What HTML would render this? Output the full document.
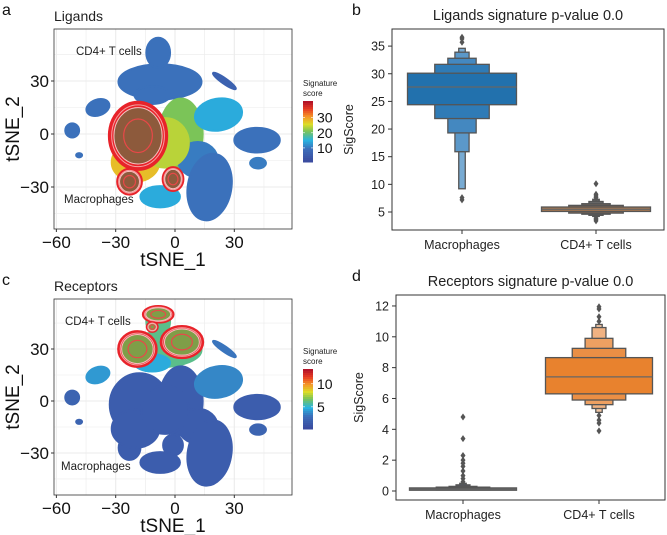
<!DOCTYPE html>
<html><head><meta charset="utf-8"><style>
body{margin:0;background:#fff;}
svg{display:block;font-family:"Liberation Sans",sans-serif;}
</style></head><body>
<svg id="fig" width="667" height="535" viewBox="0 0 667 535"></svg>
<script>
// ---- tSNE cluster data (data units) ----
const clusterX  = [-7.6,-8.5,25,-39,-52,-48.5,-18,-23,-1,3,22,41.5,42,11.5,17.5,-7.5,-11.5,-20,-5];
const clusterY  = [29.5,46,30,15,2,-12,-2,-27,-25.5,0,11,-3.5,-16.5,-14.5,-30,-35.5,22,-16,-5];
const clusterRx = [21,6,7,6,3.5,1.5,15,5.5,5,11,12,11.5,4,10,11,10,9,12,12];
const clusterRy = [10,8.5,1.5,4.5,4,1.2,18,7,6,20,9,7,3,10,19,6,5,11,14];
const clusterRot= [0,0,35,-20,0,0,0,0,0,0,-10,0,0,0,10,0,0,0,0];
const scoreA    = [9,9,6,9,9,9,30,28,20,21,14,9,10,10,9,14,9,28,24];
const scoreC    = [6,6,3,4,2,2,1.5,1.5,1.5,1.5,3.5,1.5,2,1.5,1.5,1.5,4.5,1.5,1.5];
const xTicks = [-60,-30,0,30];
const yTicks = [30,0,-30];
// contours
const contA_x=[-18.7,-23,-1], contA_y=[-1,-27,-25.5], contA_rx=[14.5,6,5], contA_ry=[19,7,6.5];
const contC_x=[-19,3.5,-8.5,-11.5], contC_y=[30,34,50,42.7], contC_rx=[9.5,10.5,7.5,2.5], contC_ry=[10,9,4.5,2.5];
// ---- boxen data ----
const catB = ["Macrophages","CD4+ T cells"];
const bMacLo=[24.4,21.9,19.3,15.9,9.2], bMacHi=[30.1,31.7,32.8,33.9,34.6], bMacMed=27.6;
const bMacOut=[7.2,7.6,35.7,36.3,36.6];
const bCdLo=[5.1,4.8,4.6,4.4,4.2], bCdHi=[5.9,6.2,6.5,6.9,7.3], bCdMed=5.5;
const bCdOut=[3.4,3.7,3.9,7.6,7.9,8.2,10.1];
const bTicks=[5,10,15,20,25,30,35];
const dMacLo=[0.05,0.07,0.08,0.1,0.1], dMacHi=[0.2,0.25,0.3,0.4,0.5], dMacMed=0.12;
const dMacOut=[0.6,0.8,1.0,1.3,1.6,1.8,2.0,2.3,3.4,4.8];
const dCdLo=[6.3,5.9,5.6,5.35,5.1], dCdHi=[8.65,9.25,9.9,10.6,10.8], dCdMed=7.4;
const dCdOut=[3.9,4.4,4.6,4.9,11.0,11.3,11.8,11.95];
const dTicks=[0,2,4,6,8,10,12];

const NS="http://www.w3.org/2000/svg", svg=document.getElementById('fig');
function el(tag,attrs,parent,txt){const e=document.createElementNS(NS,tag);for(const k in attrs)e.setAttribute(k,attrs[k]);if(txt!==undefined)e.textContent=txt;(parent||svg).appendChild(e);return e;}
function cmap(t){t=Math.max(0,Math.min(1,t));const st=[[0,[59,76,160]],[0.2,[60,110,185]],[0.35,[40,180,225]],[0.5,[120,195,90]],[0.62,[220,220,40]],[0.75,[245,150,40]],[0.88,[230,60,35]],[1,[180,20,40]]];for(let i=1;i<st.length;i++){if(t<=st[i][0]){const a=st[i-1],b=st[i],f=(t-a[0])/(b[0]-a[0]);return 'rgb('+a[1].map((v,j)=>Math.round(v+(b[1][j]-v)*f)).join(',')+')';}}return 'rgb(180,20,40)';}

function tsne(opt){
  const g=el('g',{});
  
  
  const L=54,R=292,T=opt.top,B=opt.bottom;
  const sx=v=>175+v*1.977, sy=v=>opt.y0-v*opt.ky;
  el('rect',{x:L,y:T,width:R-L,height:B-T,fill:'#fff'},g);
  for(let v=-60;v<=60;v+=15){const x=sx(v);if(x>L&&x<R)el('line',{x1:x,x2:x,y1:T,y2:B,stroke:'#ebebeb','stroke-width':v%30?0.6:1.1},g);}
  for(let v=-60;v<=60;v+=15){const y=sy(v);if(y>T&&y<B)el('line',{x1:L,x2:R,y1:y,y2:y,stroke:'#ebebeb','stroke-width':v%30?0.6:1.1},g);}
  for(let i=0;i<clusterX.length;i++){
    const col=cmap((opt.scores[i]-opt.min)/(opt.max-opt.min));
    const c=el('ellipse',{cx:sx(clusterX[i]),cy:sy(clusterY[i]),rx:clusterRx[i]*1.977,ry:clusterRy[i]*opt.ky,fill:col,stroke:col,'stroke-width':2,transform:'rotate('+clusterRot[i]+' '+sx(clusterX[i])+' '+sy(clusterY[i])+')'},g);
    
    
  }
  for(let i=0;i<opt.cx.length;i++){
    const cg=el('g',{},g);
    
    
    const X=sx(opt.cx[i]),Y=sy(opt.cy[i]),rx=opt.crx[i]*1.977,ry=opt.cry[i]*opt.ky;
    el('ellipse',{cx:X,cy:Y,rx:rx,ry:ry,fill:'#e8232a',stroke:'#e8232a','stroke-width':3},cg);
    el('ellipse',{cx:X,cy:Y,rx:rx*0.84,ry:ry*0.84,fill:opt.inner,stroke:'#f7c0c0','stroke-width':1},cg);
    el('ellipse',{cx:X,cy:Y,rx:rx*0.92,ry:ry*0.92,fill:'none',stroke:'#f4a0a0','stroke-width':1},cg);
    el('ellipse',{cx:X,cy:Y,rx:rx*0.5,ry:ry*0.5,fill:'none',stroke:'#e84848','stroke-width':1.2},cg);
  }
  el('rect',{x:L,y:T,width:R-L,height:B-T,fill:'none',stroke:'#333','stroke-width':0.8},g);
  xTicks.forEach(v=>{const x=sx(v);el('line',{x1:x,x2:x,y1:B,y2:B+3,stroke:'#333'},g);const t=el('text',{x:x,y:B+19,'font-size':17,'text-anchor':'middle',fill:'#111'},g,v<0?'\u2212'+(-v):v);});
  yTicks.forEach(v=>{const y=sy(v);el('line',{x1:L-3,x2:L,y1:y,y2:y,stroke:'#333'},g);const t=el('text',{x:L-5,y:y+6,'font-size':17,'text-anchor':'end',fill:'#111'},g,v<0?'\u2212'+(-v):v);});
  const xt=el('text',{x:173,y:B+37,'font-size':19,'text-anchor':'middle',fill:'#111'},g,'tSNE_1');
  const yt=el('text',{x:0,y:0,'font-size':19,'text-anchor':'middle',fill:'#111',transform:'translate(19,'+((T+B)/2)+') rotate(-90)'},g,'tSNE_2');
  const ti=el('text',{x:54,y:T-8,'font-size':14,fill:'#222'},g,opt.title);
  const le=el('text',{x:2,y:T-14,'font-size':16,fill:'#111'},g,opt.letter);
  const l1=el('text',{x:opt.cdX,y:opt.cdY,'font-size':11.5,fill:'#222'},g,'CD4+ T cells');
  const l2=el('text',{x:opt.mX,y:opt.mY,'font-size':11.5,fill:'#222'},g,'Macrophages');
  const cb=el('g',{},g);
  el('text',{x:303,y:opt.cbT-15,'font-size':8,fill:'#222'},cb,'Signature');
  el('text',{x:303,y:opt.cbT-5,'font-size':8,fill:'#222'},cb,'score');
  const n=30,h=(opt.cbB-opt.cbT)/n;
  for(let i=0;i<n;i++)el('rect',{x:303,y:opt.cbT+i*h,width:10,height:h+0.5,fill:cmap(1-i/(n-1))},cb);
  opt.cbTicks.forEach(v=>{const y=opt.cbB-(v-opt.min)/(opt.max-opt.min)*(opt.cbB-opt.cbT);el('line',{x1:303,x2:305,y1:y,y2:y,stroke:'#fff','stroke-width':0.6},cb);el('line',{x1:311,x2:313,y1:y,y2:y,stroke:'#fff','stroke-width':0.6},cb);el('text',{x:317,y:y+5,'font-size':14,fill:'#111'},cb,v);});
}
tsne({name:'ligands-tsne',top:29,bottom:229,y0:134,ky:1.767,scores:scoreA,min:0.7,max:41,cx:contA_x,cy:contA_y,crx:contA_rx,cry:contA_ry,inner:'#8d5a3c',title:'Ligands',letter:'a',cdX:76,cdY:55,mX:64,mY:203,cbT:101,cbB:162,cbTicks:[10,20,30]});
tsne({name:'receptors-tsne',top:299,bottom:495,y0:401,ky:1.733,scores:scoreC,min:0.2,max:13.2,cx:contC_x,cy:contC_y,crx:contC_rx,cry:contC_ry,inner:'#7f9e48',title:'Receptors',letter:'c',cdX:65,cdY:325,mX:61,mY:470,cbT:369,cbB:429,cbTicks:[5,10]});

function boxen(opt){
  const g=el('g',{});
  
  
  const sy=v=>opt.y0-(v-opt.v0)*opt.k;
  const cats=[opt.cat0,opt.cat1];
  el('rect',{x:opt.L,y:opt.T,width:opt.R-opt.L,height:opt.B-opt.T,fill:'#fff',stroke:'#333','stroke-width':1},g);
  const full=[1,0.5,0.26,0.13,0.06];
  cats.forEach((c,ci)=>{
    const cx=opt.cx[ci],cg=el('g',{},g);
    
    
    for(let i=c.lo.length-1;i>=0;i--){
      const hw=opt.hw*full[i];
      el('rect',{x:cx-hw,y:sy(c.hi[i]),width:2*hw,height:Math.max(1.5,sy(c.lo[i])-sy(c.hi[i])),fill:c.colors[i],stroke:'#555','stroke-width':1.3},cg);
    }
    el('line',{x1:cx-opt.hw,x2:cx+opt.hw,y1:sy(c.med),y2:sy(c.med),stroke:'#666','stroke-width':1.2},cg);
    c.out.forEach(v=>{const y=sy(v);el('path',{d:'M'+cx+' '+(y-3.5)+'L'+(cx+2.5)+' '+y+'L'+cx+' '+(y+3.5)+'L'+(cx-2.5)+' '+y+'Z',fill:'#555'},cg);});
    el('line',{x1:cx,x2:cx,y1:opt.B,y2:opt.B+4,stroke:'#333'},g);
    const t=el('text',{x:cx,y:opt.B+19,'font-size':12.5,'text-anchor':'middle',fill:'#222'},g,catB[ci]);
    
  });
  opt.ticks.forEach(v=>{const y=sy(v);el('line',{x1:opt.L-4,x2:opt.L,y1:y,y2:y,stroke:'#333'},g);const t=el('text',{x:opt.L-7,y:y+4.5,'font-size':12.5,'text-anchor':'end',fill:'#222'},g,v);});
  const yt=el('text',{x:0,y:0,'font-size':12.5,'text-anchor':'middle',fill:'#222',transform:'translate('+opt.ylx+','+((opt.T+opt.B)/2)+') rotate(-90)'},g,'SigScore');
  const ti=el('text',{x:(opt.L+opt.R)/2,y:opt.T-9,'font-size':14.5,'text-anchor':'middle',fill:'#222'},g,opt.title);
  const le=el('text',{x:352,y:opt.T-14,'font-size':16,fill:'#111'},g,opt.letter);
}
const blues=['#2271ad','#2f7bb6','#4488c0','#5b98c9','#78abd3'];
const brown=['#a9784f','#8a6a55','#7a6a60','#6a6a6a','#606060'];
const oranges=['#e8822e','#ea8f45','#eda062','#f0b282','#f3c7a4'];
const greys=['#555','#555','#555','#556','#4a6a8a'];
boxen({name:'ligands-boxen',L:392,R:664,T:29,B:230,y0:212,v0:5,k:5.53,cx:[462,596],hw:54.5,ticks:bTicks,ylx:353,title:'Ligands signature p-value 0.0',letter:'b',
  cat0:{lo:bMacLo,hi:bMacHi,med:bMacMed,out:bMacOut,colors:blues},cat1:{lo:bCdLo,hi:bCdHi,med:bCdMed,out:bCdOut,colors:brown}});
boxen({name:'receptors-boxen',L:396,R:665,T:295,B:500,y0:491,v0:0,k:15.42,cx:[463,599],hw:53.5,ticks:dTicks,ylx:363,title:'Receptors signature p-value 0.0',letter:'d',
  cat0:{lo:dMacLo,hi:dMacHi,med:dMacMed,out:dMacOut,colors:greys},cat1:{lo:dCdLo,hi:dCdHi,med:dCdMed,out:dCdOut,colors:oranges}});
</script>
</body></html>
